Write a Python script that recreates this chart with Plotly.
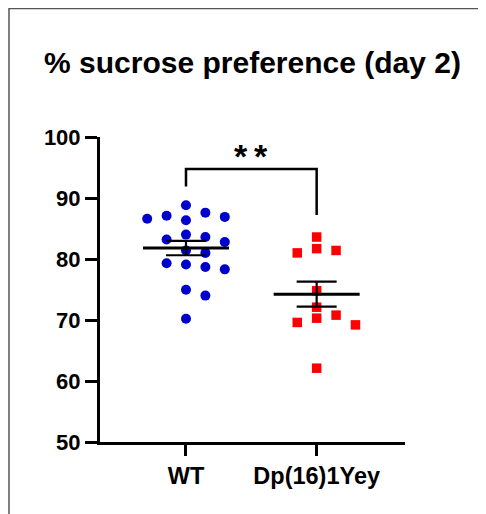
import numpy as np
import plotly.graph_objects as go

# ---- data ----
categories = ["WT", "Dp(16)1Yey"]
wt_values = [87.6, 88.8, 86.9, 86.35, 86.6, 87.1, 83.2, 82.8, 83.6, 84.0,
             81.4, 81.0, 79.3, 78.7, 79.1, 78.3, 74.95, 74.0, 70.2]
dp_values = [83.6, 81.0, 81.4, 81.7, 74.8, 72.1, 70.3, 70.8, 69.2, 69.6, 62.1]
y_ticks = [50, 60, 70, 80, 90, 100]
title_text = "% sucrose preference (day 2)"
sig_text = "*\u2009*"

# ---- geometry (page has an 8px body margin) ----
W, H = 478, 506
L, R, T, B = 92, 81, 129.3, 72.3
xr = [0.342, 2.676]
yr = [50, 100]
px_x = (W - L - R) / (xr[1] - xr[0])
px_y = (H - T - B) / (yr[1] - yr[0])


def swarm(values, step=9.7, wcol=19.0, hcol=9.8):
    order = np.argsort(values)[::-1]
    placed = []
    offs = [0.0] * len(values)
    cands = [0]
    for n in range(1, 12):
        cands += [n, -n]
    for i in order:
        y = values[i] * px_y
        for c in cands:
            dx = c * step
            ok = all(not (abs(px - dx) < wcol and abs(py - y) < hcol) for (px, py) in placed)
            if ok:
                placed.append((dx, y))
                offs[i] = dx / px_x
                break
    return offs


fig = go.Figure()
groups = [(wt_values, "#0000CC", "circle", 10, 14.0),
          (dp_values, "#FF0000", "square", 9.5, 9.8)]
for gi, (vals, col, sym, sz, hc) in enumerate(groups):
    c = gi + 1
    offs = swarm(vals, hcol=hc)
    fig.add_trace(go.Scatter(
        x=[c + o for o in offs], y=vals, mode="markers",
        marker=dict(color=col, symbol=sym, size=sz, line=dict(width=0)),
        showlegend=False, hoverinfo="y"))
    arr = np.array(vals)
    m = arr.mean()
    sem = arr.std(ddof=1) / np.sqrt(len(arr))
    mw = 43 / px_x
    cw = 20 / px_x
    fig.add_trace(go.Scatter(x=[c - mw, c + mw], y=[m, m], mode="lines",
                             line=dict(color="black", width=3), showlegend=False,
                             hoverinfo="skip"))
    fig.add_trace(go.Scatter(x=[c, c], y=[m - sem, m + sem], mode="lines",
                             line=dict(color="black", width=2.2), showlegend=False,
                             hoverinfo="skip"))
    for yy in (m - sem, m + sem):
        fig.add_trace(go.Scatter(x=[c - cw, c + cw], y=[yy, yy], mode="lines",
                                 line=dict(color="black", width=2.2), showlegend=False,
                                 hoverinfo="skip"))

# significance bracket
top = 94.75
l_end = max(wt_values) + 3.1
r_end = max(dp_values) + 3.6
fig.add_trace(go.Scatter(x=[1, 1, 2, 2], y=[l_end, top, top, r_end], mode="lines",
                         line=dict(color="black", width=2.5), showlegend=False,
                         hoverinfo="skip"))
fig.add_annotation(x=1.5, y=96.85, xref="x", yref="y", text="<b>" + sig_text + "</b>",
                   showarrow=False,
                   font=dict(family="Liberation Sans", size=34, color="black"),
                   yanchor="middle")

# frame around the figure (its outer edge)
fx0 = (1 - L) / (W - L - R)
fy1 = 1 + (T - 1) / (H - T - B)
fig.add_shape(type="rect", xref="paper", yref="paper", x0=fx0, x1=3, y0=-3, y1=fy1,
              line=dict(color="#555555", width=1.5), layer="below")

fig.update_layout(
    width=W, height=H,
    margin=dict(l=L, r=R, t=T, b=B),
    paper_bgcolor="white", plot_bgcolor="white",
    title=dict(text="<b>" + title_text + "</b>", x=0.5, xanchor="center",
               xref="paper", y=1 - 54 / H, yanchor="middle",
               font=dict(family="Liberation Sans", size=30, color="black")),
    font=dict(family="Liberation Sans", color="black"),
)
fig.update_xaxes(range=xr, tickvals=[1, 2], ticktext=["<b>" + c + "</b>" for c in categories],
                 showline=True, linecolor="black", linewidth=3, ticks="outside",
                 ticklen=11, tickwidth=3, tickcolor="black", showgrid=False,
                 zeroline=False, tickfont=dict(size=23.5, family="Liberation Sans"))
fig.update_yaxes(range=yr, tickvals=y_ticks, ticktext=["<b>%d</b>" % v for v in y_ticks],
                 showline=True, linecolor="black", linewidth=3, ticks="outside",
                 ticklen=12, tickwidth=3, tickcolor="black", showgrid=False,
                 zeroline=False, tickfont=dict(size=22, family="Liberation Sans"))

fig.write_html("out.html")
